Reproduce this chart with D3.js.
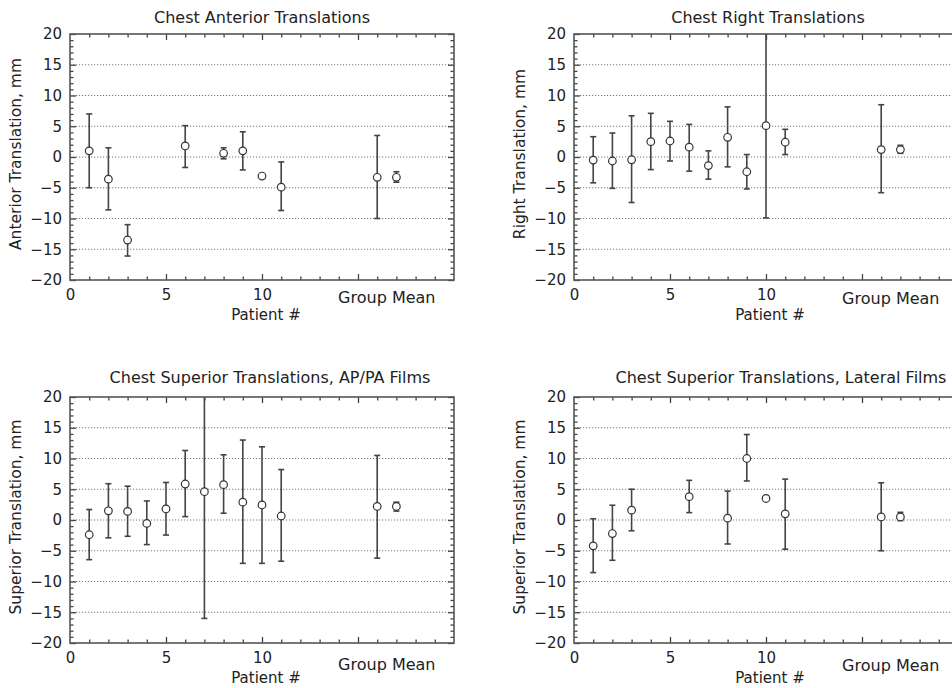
<!DOCTYPE html>
<html>
<head>
<meta charset="utf-8">
<script src="https://cdn.jsdelivr.net/npm/d3@7"></script>
<style>
  body { margin: 0; background: #fff; }
  svg { display: block; font-family: "DejaVu Sans", sans-serif; }
  .grid line { stroke: #777; stroke-dasharray: 1.2,1.8; stroke-width: 1; }
  .ticks path { display: none; }
  .ticks line { stroke: #444; stroke-width: 1.3; }
  .labels path, .labels line { display: none; }
  .labels text { font-size: 15px; fill: #222; font-family: "DejaVu Sans", sans-serif; }
</style>
</head>
<body>
<svg width="952" height="688"></svg>
<script>
// patient positions on the x axis, the two group-mean markers sit at 16 and 17
const xPos = [1, 2, 3, 4, 5, 6, 7, 8, 9, 10, 11, 16, 17];
const yTicks = [-20, -15, -10, -5, 0, 5, 10, 15, 20];
const xTickLabels = [0, 5, 10];

// Chest Anterior
const anteriorMean = [1.0, -3.6, -13.5, null, null, 1.8, null, 0.6, 1.0, -3.1, -4.9, -3.3, -3.3];
const anteriorLow  = [-5.0, -8.6, -16.1, null, null, -1.7, null, -0.3, -2.1, null, -8.7, -10.0, -4.1];
const anteriorHigh = [7.0, 1.5, -11.0, null, null, 5.1, null, 1.5, 4.1, null, -0.8, 3.5, -2.4];

// Chest Right
const rightMean = [-0.5, -0.65, -0.45, 2.5, 2.6, 1.6, -1.4, 3.2, -2.4, 5.1, 2.4, 1.2, 1.2];
const rightLow  = [-4.2, -5.1, -7.4, -2.05, -0.65, -2.3, -3.6, -1.6, -5.2, -9.9, 0.4, -5.8, 0.6];
const rightHigh = [3.3, 3.9, 6.7, 7.1, 5.8, 5.3, 1.0, 8.15, 0.4, 20.1, 4.5, 8.5, 1.9];

// Chest Superior, AP/PA films
const supApMean = [-2.4, 1.5, 1.4, -0.55, 1.8, 5.85, 4.6, 5.75, 2.9, 2.45, 0.65, 2.2, 2.2];
const supApLow  = [-6.45, -2.9, -2.65, -4.0, -2.45, 0.55, -16.0, 1.1, -7.05, -7.05, -6.7, -6.2, 1.45];
const supApHigh = [1.7, 5.9, 5.5, 3.1, 6.1, 11.3, 25.2, 10.6, 13.0, 11.9, 8.2, 10.5, 2.9];

// Chest Superior, lateral films
const supLatMean = [-4.2, -2.2, 1.6, null, null, 3.8, null, 0.3, 10.0, 3.5, 1.0, 0.5, 0.5];
const supLatLow  = [-8.55, -6.55, -1.75, null, null, 1.2, null, -3.9, 6.35, null, -4.75, -5.0, -0.1];
const supLatHigh = [0.2, 2.4, 5.0, null, null, 6.45, null, 4.7, 13.9, null, 6.65, 6.05, 1.25];

const panels = [
  { id: 'a', left: 70, top: 34, title: 'Chest Anterior Translations', ylabel: 'Anterior Translation, mm',
    mean: anteriorMean, low: anteriorLow, high: anteriorHigh, titleDy: -11, titleDx: 0, gmDy: 3 },
  { id: 'b', left: 574, top: 34, title: 'Chest Right Translations', ylabel: 'Right Translation, mm',
    mean: rightMean, low: rightLow, high: rightHigh, titleDy: -11, titleDx: 2, gmDy: 4 },
  { id: 'c', left: 70, top: 397, title: 'Chest Superior Translations, AP/PA Films', ylabel: 'Superior Translation, mm',
    mean: supApMean, low: supApLow, high: supApHigh, titleDy: -14, titleDx: 8, gmDy: 7 },
  { id: 'd', left: 574, top: 397, title: 'Chest Superior Translations, Lateral Films', ylabel: 'Superior Translation, mm',
    mean: supLatMean, low: supLatLow, high: supLatHigh, titleDy: -14, titleDx: 15, gmDy: 8 }
];

const width = 384, height = 246;
const svg = d3.select('svg');

const x = d3.scaleLinear().domain([0, 20]).range([0, width]);
const y = d3.scaleLinear().domain([-20, 20]).range([height, 0]);

const minorY = d3.range(-20, 21, 1).filter(v => v % 5 !== 0);
const minorX = d3.range(0, 21, 1).filter(v => v % 5 !== 0);
const majorX = [5, 10, 15];

panels.forEach(function (p) {
  const g = svg.append('g').attr('transform', 'translate(' + p.left + ',' + p.top + ')');

  g.append('clipPath').attr('id', 'clip-' + p.id)
    .append('rect').attr('width', width).attr('height', height);

  // dotted grid
  g.append('g').attr('class', 'grid')
    .selectAll('line')
    .data(yTicks.filter(v => v > -20 && v < 20))
    .enter().append('line')
    .attr('x1', 0).attr('x2', width)
    .attr('y1', d => y(d)).attr('y2', d => y(d));

  // inward ticks on all four sides
  function ticks(axis, tr) {
    g.append('g').attr('class', 'ticks').attr('transform', tr).call(axis);
  }
  ticks(d3.axisRight(y).tickValues(yTicks).tickSize(6).tickFormat(''), 'translate(0,0)');
  ticks(d3.axisRight(y).tickValues(minorY).tickSize(3.5).tickFormat(''), 'translate(0,0)');
  ticks(d3.axisLeft(y).tickValues(yTicks).tickSize(6).tickFormat(''), 'translate(' + width + ',0)');
  ticks(d3.axisLeft(y).tickValues(minorY).tickSize(3.5).tickFormat(''), 'translate(' + width + ',0)');
  ticks(d3.axisBottom(x).tickValues(majorX).tickSize(6).tickFormat(''), 'translate(0,0)');
  ticks(d3.axisBottom(x).tickValues(minorX).tickSize(3.5).tickFormat(''), 'translate(0,0)');
  ticks(d3.axisTop(x).tickValues(majorX).tickSize(6).tickFormat(''), 'translate(0,' + height + ')');
  ticks(d3.axisTop(x).tickValues(minorX).tickSize(3.5).tickFormat(''), 'translate(0,' + height + ')');

  // tick labels
  g.append('g').attr('class', 'labels')
    .call(d3.axisLeft(y).tickValues(yTicks).tickSize(0).tickPadding(8));
  g.append('g').attr('class', 'labels').attr('transform', 'translate(0,' + height + ')')
    .call(d3.axisBottom(x).tickValues(xTickLabels).tickSize(0).tickPadding(9));

  g.append('text')
    .attr('x', x(16.5)).attr('y', height + 20 + p.gmDy)
    .attr('text-anchor', 'middle').attr('font-size', 16).attr('fill', '#222')
    .text('Group Mean');

  g.append('text')
    .attr('x', width / 2 + 4).attr('y', height + 40)
    .attr('text-anchor', 'middle').attr('font-size', 15).attr('fill', '#222')
    .text('Patient #');

  g.append('text')
    .attr('transform', 'translate(-49,' + (height / 2 - 3) + ') rotate(-90)')
    .attr('text-anchor', 'middle').attr('font-size', 15.5).attr('fill', '#222')
    .text(p.ylabel);

  g.append('text')
    .attr('x', width / 2 + p.titleDx).attr('y', p.titleDy)
    .attr('text-anchor', 'middle').attr('font-size', 16).attr('fill', '#222')
    .text(p.title);

  // error bars and markers
  const rows = xPos.map((v, i) => ({ x: v, m: p.mean[i], lo: p.low[i], hi: p.high[i] }))
    .filter(d => d.m !== null);

  const marks = g.append('g').attr('clip-path', 'url(#clip-' + p.id + ')');
  const bars = rows.filter(d => d.lo !== null);

  marks.selectAll('.bar').data(bars).enter().append('line')
    .attr('x1', d => x(d.x)).attr('x2', d => x(d.x))
    .attr('y1', d => y(d.lo)).attr('y2', d => y(d.hi))
    .attr('stroke', '#444').attr('stroke-width', 1.6);

  ['lo', 'hi'].forEach(function (k) {
    marks.selectAll('.cap-' + k).data(bars).enter().append('line')
      .attr('x1', d => x(d.x) - 3).attr('x2', d => x(d.x) + 3)
      .attr('y1', d => y(d[k])).attr('y2', d => y(d[k]))
      .attr('stroke', '#444').attr('stroke-width', 1.6);
  });

  marks.selectAll('circle').data(rows).enter().append('circle')
    .attr('cx', d => x(d.x)).attr('cy', d => y(d.m)).attr('r', 3.8)
    .attr('fill', '#fff').attr('stroke', '#333').attr('stroke-width', 1.2);

  // frame
  g.append('rect').attr('width', width).attr('height', height)
    .attr('fill', 'none').attr('stroke', '#555').attr('stroke-width', 1.6);
});
</script>
</body>
</html>
